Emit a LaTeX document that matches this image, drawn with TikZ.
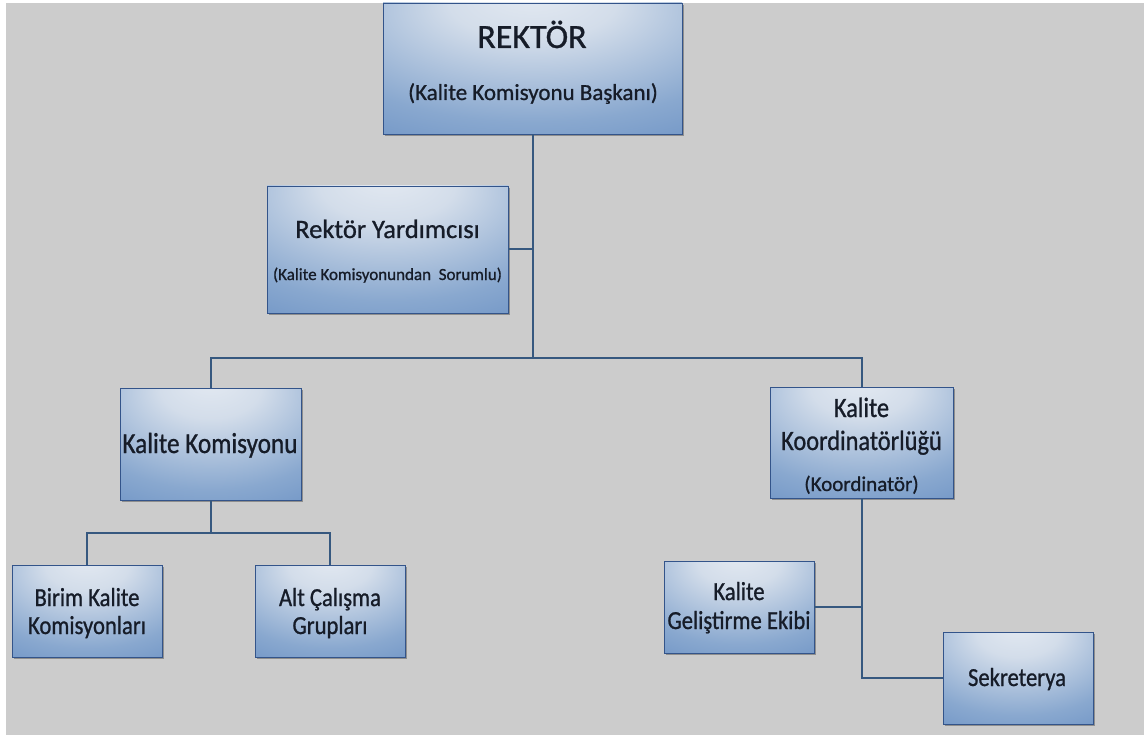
\documentclass[tikz,border=0pt]{standalone}
\usepackage{fontspec}
\setmainfont{Carlito}[FakeBold=0.9]
\newfontfamily\narrowfont{Carlito}[FakeStretch=0.87, FakeBold=0.9]
\usetikzlibrary{shadows}

\definecolor{pagegray}{HTML}{CCCCCC}
\definecolor{glowc}{HTML}{E4EAF2}
\definecolor{softc}{HTML}{D3DDEA}
\definecolor{midc}{HTML}{89A8CF}
\definecolor{edgec}{HTML}{5E87BF}
\definecolor{deepc}{HTML}{4A72AA}
\definecolor{boxline}{HTML}{33548A}
\definecolor{linkc}{HTML}{36587F}
\definecolor{ink}{HTML}{161C28}

% soft glow, brightest near the top middle of each box
\pgfdeclareradialshading{boxglow}{\pgfpoint{0bp}{30bp}}{%
  color(0bp)=(glowc); color(14bp)=(softc); color(38bp)=(midc);
  color(60bp)=(edgec); color(92bp)=(deepc)}

\begin{document}
\begin{tikzpicture}[x=1pt,y=-1pt,
  box/.style={draw=boxline, line width=0.9pt, shading=boxglow, inner sep=0pt,
    drop shadow={shadow xshift=1.5pt, shadow yshift=-2pt, fill=black, opacity=0.3}},
  txt/.style={anchor=base, inner sep=0pt, text=ink},
  link/.style={draw=linkc, line width=2pt}]

% page and backdrop
\path[use as bounding box] (0,0) rectangle (1144,738);
\fill[white] (0,0) rectangle (1144,738);
\fill[pagegray] (6,3) rectangle (1144,735);

% boxes
\node[box, minimum width=299pt, minimum height=131pt] (rek)   at (532.5,68.5) {};
\node[box, minimum width=241pt, minimum height=127pt] (ryd)   at (387.5,249.5) {};
\node[box, minimum width=181pt, minimum height=112pt] (kk)    at (210.5,444) {};
\node[box, minimum width=183pt, minimum height=111pt] (koord) at (861.5,442.5) {};
\node[box, minimum width=150pt, minimum height=92pt]  (birim) at (87,611) {};
\node[box, minimum width=150pt, minimum height=92pt]  (alt)   at (330,611) {};
\node[box, minimum width=150pt, minimum height=92pt]  (gel)   at (739,607) {};
\node[box, minimum width=150pt, minimum height=92pt]  (sek)   at (1018,678) {};

% box texts
\node[txt, font=\fontsize{34}{40}\selectfont] (rek-a) at (532,48) {REKTÖR};
\node[txt, font=\fontsize{23}{28}\selectfont] (rek-b) at (533,100) {(Kalite Komisyonu Başkanı)};
\node[txt, font=\fontsize{26.5}{32}\selectfont] (ryd-a) at (387.5,238) {Rektör Yardımcısı};
\node[txt, font=\fontsize{17}{20}\selectfont] (ryd-b) at (387.5,280) {(Kalite Komisyonundan\ \ Sorumlu)};
\node[txt, font=\narrowfont\fontsize{29}{34}\selectfont] (kk-a) at (210,453) {Kalite Komisyonu};
\node[txt, font=\narrowfont\fontsize{28}{34}\selectfont] (koord-a) at (861.5,417) {Kalite};
\node[txt, font=\narrowfont\fontsize{28}{34}\selectfont] (koord-b) at (861.5,450) {Koordinatörlüğü};
\node[txt, font=\fontsize{21}{25}\selectfont] (koord-c) at (861.5,491) {(Koordinatör)};
\node[txt, font=\narrowfont\fontsize{26}{31}\selectfont] (birim-a) at (87,606) {Birim Kalite};
\node[txt, font=\narrowfont\fontsize{26}{31}\selectfont] (birim-b) at (87,634) {Komisyonları};
\node[txt, font=\narrowfont\fontsize{26}{31}\selectfont] (alt-a) at (330,606) {Alt Çalışma};
\node[txt, font=\narrowfont\fontsize{26}{31}\selectfont] (alt-b) at (330,634) {Grupları};
\node[txt, font=\narrowfont\fontsize{26}{31}\selectfont] (gel-a) at (739,600) {Kalite};
\node[txt, font=\narrowfont\fontsize{26}{31}\selectfont] (gel-b) at (739,629) {Geliştirme Ekibi};
\node[txt, font=\narrowfont\fontsize{26}{31}\selectfont] (sek-a) at (1017,686) {Sekreterya};

% connectors
\coordinate (bus) at (532.5,358);
\coordinate (kkfork) at (210.5,533);
\draw[link] (rek.south) -- (bus);
\draw[link] (ryd.east) -- (ryd.east -| rek.south);
\draw[link] (kk.north) |- (bus) -| (koord.north);
\draw[link] (kk.south) -- (kkfork);
\draw[link] (birim.north) |- (kkfork) -| (alt.north);
\draw[link] (koord.south) |- (sek.west);
\draw[link] (gel.east) -- (gel.east -| koord.south);
\end{tikzpicture}
\end{document}
